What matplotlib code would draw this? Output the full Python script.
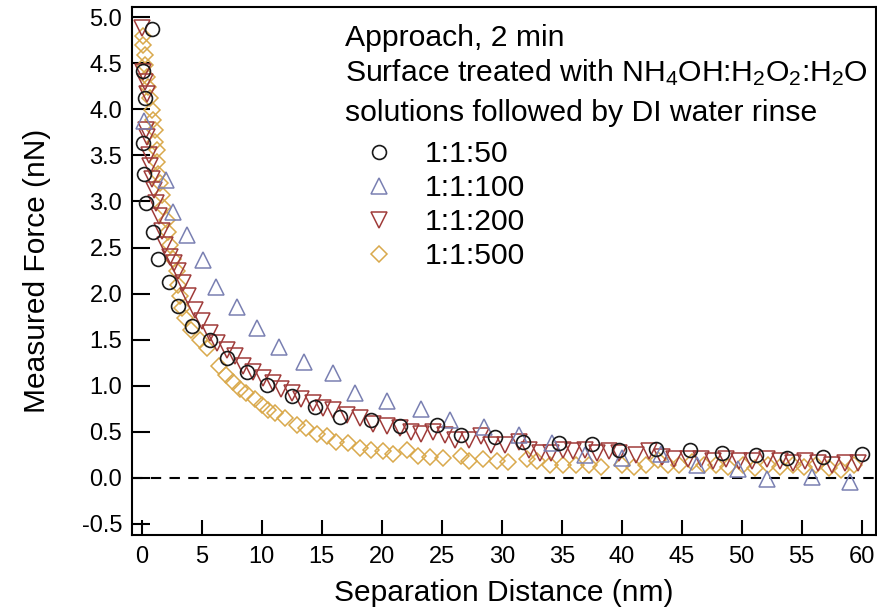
import matplotlib
matplotlib.use("Agg")
import matplotlib.pyplot as plt

plt.rcParams["font.family"] = ["Liberation Sans", "DejaVu Sans"]
plt.rcParams["mathtext.default"] = "regular"

# 1:1:50 (circles)
x50 = [0.81, 0.1, 0.25, 0.1, 0.15, 0.33, 0.9, 1.3, 2.28, 2.97, 4.14, 5.67, 7.06,
       8.72, 10.4, 12.5, 14.4, 16.5, 19.1, 21.5, 24.6, 26.6, 29.4, 31.8, 34.8,
       37.5, 39.8, 42.9, 45.7, 48.4, 51.2, 53.8, 56.8, 60.0]
y50 = [4.87, 4.42, 4.12, 3.63, 3.30, 2.98, 2.67, 2.38, 2.13, 1.86, 1.65, 1.50, 1.30,
       1.15, 1.01, 0.89, 0.77, 0.66, 0.63, 0.56, 0.575, 0.47, 0.44, 0.39, 0.38,
       0.365, 0.30, 0.31, 0.30, 0.27, 0.25, 0.22, 0.23, 0.26]

# 1:1:100 (up triangles)
x100 = [0.2, 2.0, 2.56, 3.8, 5.06, 6.2, 7.89, 9.56, 11.4, 13.5, 15.9, 17.75, 20.4,
        23.3, 25.7, 28.5, 31.4, 34.2, 36.9, 40.0, 43.3, 46.3, 49.7, 52.1, 55.9, 59.0]
y100 = [3.87, 3.23, 2.89, 2.64, 2.36, 2.07, 1.85, 1.63, 1.42, 1.26, 1.14, 0.92, 0.83,
        0.75, 0.63, 0.55, 0.47, 0.38, 0.25, 0.22, 0.26, 0.14, 0.10, -0.01, 0.01, -0.05]

# 1:1:200 (down triangles)
x200 = [0.0, 0.1, 0.25, 0.4, 0.3, 0.4, 0.55, 0.7, 0.85, 1.0, 1.2, 1.4, 1.65, 1.95,
        2.3, 2.65, 3.03, 3.44, 3.86, 4.42, 4.97, 5.67, 6.22, 7.06, 7.75, 8.44, 9.28,
        10.1, 10.9, 11.6, 12.5, 13.3, 14.3, 15.1, 15.9, 17.1, 18.2, 19.3, 20.4, 21.5,
        22.4, 23.3, 24.3, 25.25, 26.1, 27.3, 28.3, 29.1, 30.25, 31.4, 32.3, 33.2,
        34.1, 35.1, 35.9, 36.9, 37.9, 38.9, 39.8, 41.2, 42.3, 43.4, 44.4, 45.5, 46.6,
        47.6, 48.7, 49.8, 50.9, 52.1, 53.2, 54.3, 55.25, 56.4, 57.5, 58.6, 59.7]
y200 = [4.88, 4.40, 4.30, 4.17, 3.78, 3.70, 3.50, 3.38, 3.24, 3.12, 2.98, 2.84, 2.68,
        2.53, 2.40, 2.33, 2.24, 2.11, 1.97, 1.82, 1.70, 1.57, 1.46, 1.39, 1.32, 1.21,
        1.15, 1.08, 1.03, 0.97, 0.92, 0.86, 0.81, 0.76, 0.74, 0.68, 0.65, 0.59, 0.56,
        0.54, 0.50, 0.48, 0.50, 0.47, 0.41, 0.41, 0.45, 0.36, 0.36, 0.39, 0.30, 0.27,
        0.27, 0.30, 0.29, 0.30, 0.27, 0.29, 0.27, 0.25, 0.29, 0.23, 0.20, 0.21, 0.20,
        0.18, 0.20, 0.18, 0.18, 0.20, 0.18, 0.16, 0.18, 0.16, 0.14, 0.16, 0.16]

# 1:1:500 (diamonds)
x500 = [0.1, 0.1, 0.25, 0.25, 0.4, 0.5, 0.67, 0.8, 0.94, 1.08, 1.08, 1.22, 1.22, 1.36,
        1.5, 1.64, 1.78, 2.06, 2.2, 2.33, 2.6, 2.9, 3.0, 3.17, 3.3, 3.58, 4.1, 4.83,
        5.4, 6.4, 7.05, 7.6, 8.2, 8.7, 9.4, 10.0, 10.5, 11.1, 11.9, 12.9, 13.7, 14.6,
        15.4, 16.2, 17.2, 18.2, 19.1, 20.1, 20.9, 22.1, 23.0, 24.0, 25.1, 26.6, 27.3,
        28.4, 29.6, 30.5, 32.1, 32.9, 34.0, 35.1, 36.2, 37.3, 38.3, 40.0, 41.0, 42.0,
        43.0, 43.9, 44.8, 45.9, 46.9, 47.9, 48.9, 50.1, 51.1, 52.2, 53.2, 54.3, 55.2,
        56.2, 57.3, 58.3, 59.4]
y500 = [4.80, 4.70, 4.59, 4.48, 4.35, 4.24, 4.12, 3.99, 3.88, 3.77, 3.65, 3.56, 3.43,
        3.30, 3.20, 3.07, 2.94, 2.80, 2.67, 2.53, 2.38, 2.24, 2.09, 1.97, 1.84, 1.73,
        1.60, 1.50, 1.41, 1.21, 1.12, 1.04, 0.97, 0.92, 0.86, 0.79, 0.74, 0.70, 0.65,
        0.57, 0.54, 0.48, 0.45, 0.39, 0.38, 0.32, 0.30, 0.29, 0.26, 0.30, 0.24, 0.23,
        0.22, 0.24, 0.18, 0.20, 0.18, 0.17, 0.20, 0.18, 0.14, 0.14, 0.14, 0.14, 0.12,
        0.14, 0.12, 0.14, 0.19, 0.14, 0.14, 0.17, 0.14, 0.14, 0.12, 0.14, 0.11, 0.14,
        0.12, 0.14, 0.12, 0.14, 0.11, 0.09, 0.14]

xticks = [0, 5, 10, 15, 20, 25, 30, 35, 40, 45, 50, 55, 60]
yticks = [-0.5, 0.0, 0.5, 1.0, 1.5, 2.0, 2.5, 3.0, 3.5, 4.0, 4.5, 5.0]

fig = plt.figure(figsize=(8.78, 6.13), dpi=100)
ax = fig.add_axes([0.1503, 0.1272, 0.8474, 0.8614])

ax.axhline(0, color="black", lw=1.5, ls=(0, (5, 4)), zorder=1)

l500, = ax.plot(x500, y500, ls="none", marker="D", ms=8.5, mfc="none",
                mec="#d9a94c", mew=1.1, zorder=2)
l200, = ax.plot(x200, y200, ls="none", marker="v", ms=11, mfc="none",
                mec="#a03c3a", mew=1.1, zorder=3)
l100, = ax.plot(x100, y100, ls="none", marker="^", ms=11, mfc="none",
                mec="#7a80b2", mew=1.1, zorder=4)
l50, = ax.plot(x50, y50, ls="none", marker="o", ms=10, mfc="none",
               mec="#1a1a1a", mew=1.2, zorder=5)

ax.set_xlim(-0.83, 61.2)
ax.set_ylim(-0.62, 5.11)
ax.set_xticks(xticks)
ax.set_yticks(yticks)
ax.set_xticklabels([str(t) for t in xticks])
ax.set_yticklabels([f"{t:.1f}" for t in yticks])
ax.tick_params(axis="y", direction="in", length=13, width=1.5, pad=7, labelsize=17)
ax.tick_params(axis="x", direction="in", length=11, width=1.5, pad=8, labelsize=17)
for s in ax.spines.values():
    s.set_linewidth(1.5)

ax.set_xlabel("Separation Distance (nm)", fontsize=21.5, labelpad=8)
ax.set_ylabel("Measured Force (nN)", fontsize=21.5, labelpad=22)

ax.text(0.2863, 0.941, "Approach, 2 min", transform=ax.transAxes,
        fontsize=21.7, va="center", ha="left")
ax.text(0.2863, 0.875, r"Surface treated with NH$_4$OH:H$_2$O$_2$:H$_2$O",
        transform=ax.transAxes, fontsize=21.7, va="center", ha="left")
ax.text(0.2863, 0.799, "solutions followed by DI water rinse", transform=ax.transAxes,
        fontsize=21.7, va="center", ha="left")

ax.legend([l50, l100, l200, l500], ["1:1:50", "1:1:100", "1:1:200", "1:1:500"],
          loc="upper left", bbox_to_anchor=(0.3124, 0.748), frameon=False,
          fontsize=21.7, handlelength=1.0, handletextpad=1.0, labelspacing=0.2,
          borderpad=0, borderaxespad=0, numpoints=1)

fig.savefig("out.png", dpi=100)
